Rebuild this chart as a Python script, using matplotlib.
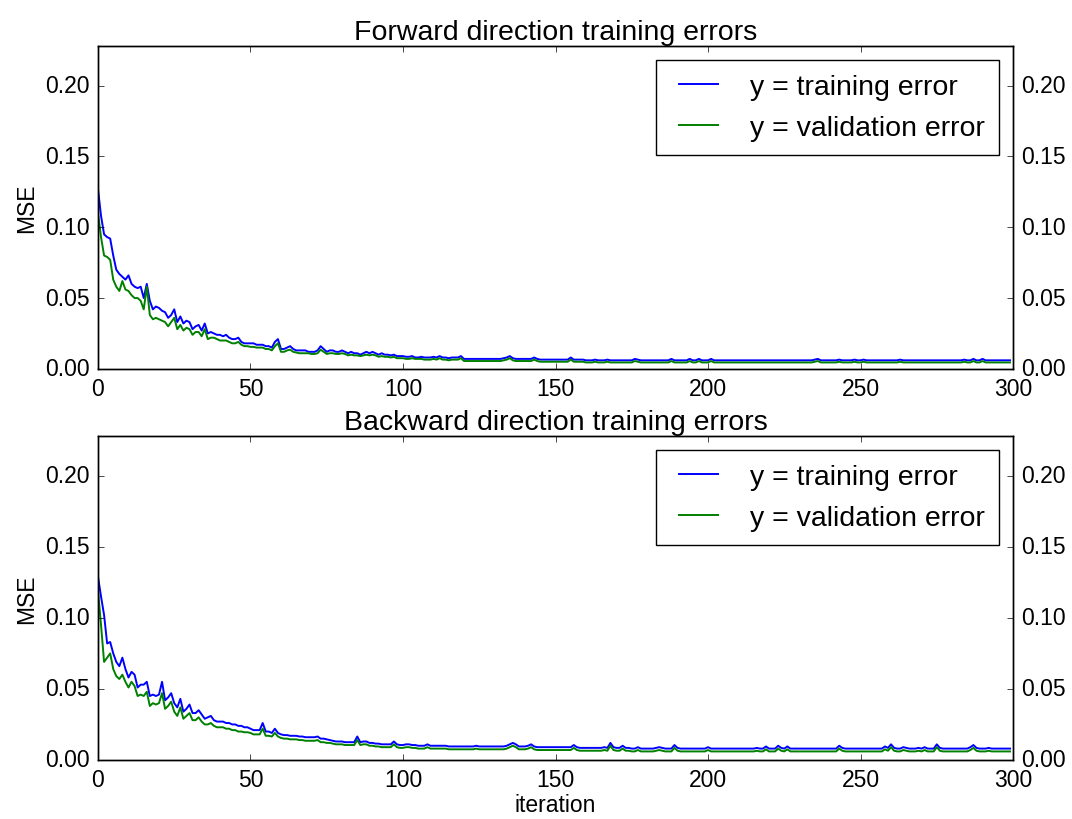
import matplotlib
matplotlib.use("Agg")
import matplotlib.pyplot as plt
import numpy as np

# MSE values, in thousandths (x 1e-3), one per iteration 0..299
train_fwd = [
    127, 108, 95, 93, 92, 80, 70, 67, 65, 63,
    66, 60, 58, 57, 58, 50, 60, 48, 42, 44,
    43, 41, 40, 36, 38, 42, 33, 37, 32, 34,
    33, 28, 30, 31, 27, 32, 25, 26, 25, 24,
    24, 23, 24, 22, 21, 21, 22, 19, 18, 18,
    18, 18, 17, 17, 17, 16, 16, 15, 19, 21,
    14, 14, 15, 16, 14, 13, 13, 13, 13, 12,
    12, 12, 13, 16, 14, 12, 13, 13, 12, 12,
    13, 12, 11, 12, 11, 11, 10, 11, 12, 11,
    12, 11, 10, 11, 10, 10, 9.5, 10, 9, 9,
    9, 8.5, 8.5, 9, 8, 8, 8.5, 8, 8, 8,
    8.5, 8, 9, 8, 8, 7.5, 8, 8, 8, 9,
    7, 7, 7, 7, 7, 7, 7, 7, 7, 7,
    7, 7, 7, 7.5, 8, 9, 7.5, 7, 7, 7,
    7, 7, 7, 8, 7, 6.5, 6.5, 6.5, 6.5, 6.5,
    6.5, 6.5, 6.5, 6.5, 6.5, 8, 6.5, 6.5, 6.5, 6.5,
    6, 6, 6, 6.5, 6, 6, 6, 6.5, 6, 6,
    6, 6, 6, 6, 6, 6, 7, 6.5, 6, 6,
    6, 6, 6, 6, 6, 6, 6, 6, 7, 6,
    6, 6, 6, 6, 7, 6, 6, 7, 6, 6,
    6, 7, 6, 6, 6, 6, 6, 6, 6, 6,
    6, 6, 6, 6, 6, 6, 6, 6, 6, 6,
    6, 6, 6, 6, 6, 6, 6, 6, 6, 6,
    6, 6, 6, 6, 6, 6.5, 7, 6, 6, 6,
    6, 6, 6, 6.5, 6, 6, 6, 6, 6.5, 6,
    6, 6.5, 6, 6, 6, 6, 6, 6, 6, 6,
    6, 6, 6, 6.5, 6, 6, 6, 6, 6, 6,
    6, 6, 6, 6, 6, 6, 6, 6, 6, 6,
    6, 6, 6, 6, 6.5, 6, 6, 7, 6, 6,
    7, 6, 6, 6, 6, 6, 6, 6, 6, 6,
]
val_fwd = [
    110, 93, 80, 79, 77, 63, 58, 55, 62, 56,
    55, 52, 50, 50, 48, 42, 58, 38, 35, 36,
    35, 34, 33, 30, 33, 36, 28, 31, 27, 29,
    28, 24, 26, 26, 23, 28, 21, 22, 22, 21,
    20, 20, 20, 19, 18, 18, 19, 17, 16, 16,
    15.5, 15.5, 15, 15, 15, 14, 14, 13, 16, 18,
    12, 12, 13, 13.5, 12, 11.5, 11, 11, 11, 11,
    10.5, 10.5, 11, 13.5, 12, 10.5, 11, 11, 10.5, 10.5,
    11, 10.5, 9.5, 10, 9.5, 9.5, 9, 9.5, 10, 9.5,
    10, 9.5, 8.5, 9, 8.5, 8.5, 8, 8.5, 7.5, 7.5,
    7.5, 7, 7, 7.5, 7, 7, 7, 6.5, 6.5, 6.5,
    7, 6.5, 7.5, 6.5, 6.5, 6, 6.5, 6.5, 6.5, 7.5,
    5.5, 5.5, 5.5, 5.5, 5.5, 5.5, 5.5, 5.5, 5.5, 5.5,
    5.5, 5.5, 5.5, 6, 6.5, 7.5, 6, 5.5, 5.5, 5.5,
    5.5, 5.5, 5.5, 6.5, 5.5, 5, 5, 5, 5, 5,
    5, 5, 5, 5, 5, 6.5, 5, 5, 5, 5,
    4.5, 4.5, 4.5, 5, 4.5, 4.5, 4.5, 5, 4.5, 4.5,
    4.5, 4.5, 4.5, 4.5, 4.5, 4.5, 5.5, 5, 4.5, 4.5,
    4.5, 4.5, 4.5, 4.5, 4.5, 4.5, 4.5, 4.5, 5.5, 4.5,
    4.5, 4.5, 4.5, 4.5, 5.5, 4.5, 4.5, 5.5, 4.5, 4.5,
    4.5, 5.5, 4.5, 4.5, 4.5, 4.5, 4.5, 4.5, 4.5, 4.5,
    4.5, 4.5, 4.5, 4.5, 4.5, 4.5, 4.5, 4.5, 4.5, 4.5,
    4.5, 4.5, 4.5, 4.5, 4.5, 4.5, 4.5, 4.5, 4.5, 4.5,
    4.5, 4.5, 4.5, 4.5, 4.5, 5, 5.5, 4.5, 4.5, 4.5,
    4.5, 4.5, 4.5, 5, 4.5, 4.5, 4.5, 4.5, 5, 4.5,
    4.5, 5, 4.5, 4.5, 4.5, 4.5, 4.5, 4.5, 4.5, 4.5,
    4.5, 4.5, 4.5, 5, 4.5, 4.5, 4.5, 4.5, 4.5, 4.5,
    4.5, 4.5, 4.5, 4.5, 4.5, 4.5, 4.5, 4.5, 4.5, 4.5,
    4.5, 4.5, 4.5, 4.5, 5, 4.5, 4.5, 5.5, 4.5, 4.5,
    5.5, 4.5, 4.5, 4.5, 4.5, 4.5, 4.5, 4.5, 4.5, 4.5,
]
train_bwd = [
    129, 115, 102, 82, 83, 75, 69, 66, 72, 64,
    58, 62, 60, 51, 53, 53, 55, 45, 46, 45,
    46, 55, 42, 44, 47, 40, 37, 43, 34, 36,
    39, 33, 33, 35, 32, 29, 30, 31, 28, 27,
    27, 27, 26, 26, 25, 25, 24, 24, 23, 23,
    22, 21, 21, 21, 26, 20, 20, 19, 22, 19,
    18, 17.5, 17.5, 17, 17, 17, 16.5, 16.5, 16, 16,
    16, 16, 16.5, 15, 15, 14.5, 14, 13.5, 13, 13,
    13, 12.5, 12.5, 12.5, 12.5, 16.5, 12.5, 13, 13, 12,
    12, 11.5, 11.5, 11, 11, 11, 11, 13, 11, 10.5,
    10.5, 11, 11, 10.5, 10.5, 10, 10, 10, 11, 10,
    10, 10, 10, 10, 10, 9.5, 9.5, 9.5, 9.5, 9.5,
    9.5, 9.5, 9.5, 9.5, 10, 9.5, 9.5, 9.5, 9.5, 9.5,
    9.5, 9.5, 9.5, 9.5, 10, 11, 12, 11, 9.5, 9.5,
    9.5, 10, 11, 9.5, 9, 9, 9, 9, 9, 9,
    9, 9, 9, 9, 9, 9, 10.5, 9, 8.5, 8.5,
    8.5, 8.5, 8.5, 8.5, 8.5, 8.5, 9, 8.5, 12, 9,
    8.5, 8.5, 10, 8.5, 8.5, 8, 8, 9, 8, 8,
    8, 8, 8, 8.5, 9, 8.5, 8, 8, 8, 10.5,
    8.5, 8, 8, 8, 8, 8, 8, 8, 8, 8,
    9, 8, 8, 8, 8, 8, 8, 8, 8, 8,
    8, 8, 8, 8, 8, 8, 8.5, 8, 8, 9.5,
    8, 8, 8, 10, 8.5, 8, 9.5, 8, 8, 8,
    8, 8, 8, 8, 8, 8, 8, 8, 8, 8,
    8, 8, 8, 10, 8.5, 8, 8, 8, 8, 8,
    8, 8, 8, 8, 8, 8, 8, 8, 9.5, 8.5,
    11, 8.5, 8, 8, 9, 8.5, 8, 8, 8, 8.5,
    8, 9, 8, 8, 8, 11, 8.5, 8, 8, 8,
    8, 8, 8, 8, 8, 8, 9, 10.5, 8.5, 8,
    8, 8, 8.5, 8, 8, 8, 8, 8, 8, 8,
]
val_bwd = [
    119, 95, 69, 72, 75, 64, 59, 57, 60, 55,
    51, 55, 52, 45, 46, 45, 48, 38, 40, 39,
    40, 47, 36, 38, 41, 34, 31, 37, 29, 31,
    33, 28, 28, 30, 27, 25, 25, 26, 24, 23,
    23, 23, 22, 22, 21, 21, 20, 20, 19.5, 19.5,
    19, 18, 18, 18, 22, 17, 17, 16.5, 19, 16.5,
    15.5, 15, 15, 14.5, 14.5, 14.5, 14, 14, 13.5, 13.5,
    13.5, 13.5, 14, 12.5, 12.5, 12, 12, 11.5, 11, 11,
    11, 10.5, 10.5, 10.5, 10.5, 14, 10.5, 11, 11, 10,
    10, 9.5, 9.5, 9, 9, 9, 9, 11, 9, 8.5,
    8.5, 9, 9, 8.5, 8.5, 8, 8, 8, 9, 8,
    8, 8, 8, 8, 8, 7.5, 7.5, 7.5, 7.5, 7.5,
    7.5, 7.5, 7.5, 7.5, 8, 7.5, 7.5, 7.5, 7.5, 7.5,
    7.5, 7.5, 7.5, 7.5, 8, 9, 10, 9, 7.5, 7.5,
    7.5, 8, 9, 7.5, 7, 7, 7, 7, 7, 7,
    7, 7, 7, 7, 7, 7, 8.5, 7, 6.5, 6.5,
    6.5, 6.5, 6.5, 6.5, 6.5, 6.5, 7, 6.5, 10, 7,
    6.5, 6.5, 8, 6.5, 6.5, 6, 6, 7, 6, 6,
    6, 6, 6, 6.5, 7, 6.5, 6, 6, 6, 8.5,
    6.5, 6, 6, 6, 6, 6, 6, 6, 6, 6,
    7, 6, 6, 6, 6, 6, 6, 6, 6, 6,
    6, 6, 6, 6, 6, 6, 6.5, 6, 6, 7.5,
    6, 6, 6, 8, 6.5, 6, 7.5, 6, 6, 6,
    6, 6, 6, 6, 6, 6, 6, 6, 6, 6,
    6, 6, 6, 8, 6.5, 6, 6, 6, 6, 6,
    6, 6, 6, 6, 6, 6, 6, 6, 7.5, 6.5,
    9, 6.5, 6, 6, 7, 6.5, 6, 6, 6, 6.5,
    6, 7, 6, 6, 6, 9, 6.5, 6, 6, 6,
    6, 6, 6, 6, 6, 6, 7, 8.5, 6.5, 6,
    6, 6, 6.5, 6, 6, 6, 6, 6, 6, 6,
]

titles = ["Forward direction training errors", "Backward direction training errors"]
series = [(train_fwd, val_fwd), (train_bwd, val_bwd)]
yticks = [0.0, 0.05, 0.10, 0.15, 0.20]

plt.style.use("classic")
plt.rcParams["font.family"] = ["Liberation Sans", "DejaVu Sans"]
plt.rcParams["font.size"] = 16.5
plt.rcParams["figure.facecolor"] = "white"

fig = plt.figure(figsize=(10.72, 8.2), dpi=100)
boxes = [[0.0914, 0.549, 0.8536, 0.3937], [0.0914, 0.072, 0.8536, 0.3951]]

for k in range(2):
    ax = fig.add_axes(boxes[k])
    tr = np.array(series[k][0]) / 1000.0
    va = np.array(series[k][1]) / 1000.0
    it = np.arange(len(tr))
    ax.plot(it, tr, color="b", lw=1.4, label="y = training error")
    ax.plot(it, va, color="g", lw=1.4, label="y = validation error")
    ax.set_xlim(0, 300)
    ax.set_ylim(0, 0.228)
    ax.set_yticks(yticks)
    ax.set_ylabel("MSE", fontsize=16.5)
    ax.set_title(titles[k], fontsize=20.5)
    ax.tick_params(labelsize=16.5, pad=6)
    if k == 1:
        ax.set_xlabel("iteration", fontsize=16.5, labelpad=1)
    leg = ax.legend(loc="upper right", fontsize=20.5, fancybox=False,
                    handlelength=2.0, borderpad=0.5, labelspacing=0.5,
                    borderaxespad=0.5)
    leg.get_frame().set_edgecolor("black")
    ax2 = ax.twinx()
    ax2.set_ylim(0, 0.228)
    ax2.set_yticks(yticks)
    ax2.tick_params(labelsize=16.5, pad=6)

fig.savefig("out.png", dpi=100, facecolor="white")
